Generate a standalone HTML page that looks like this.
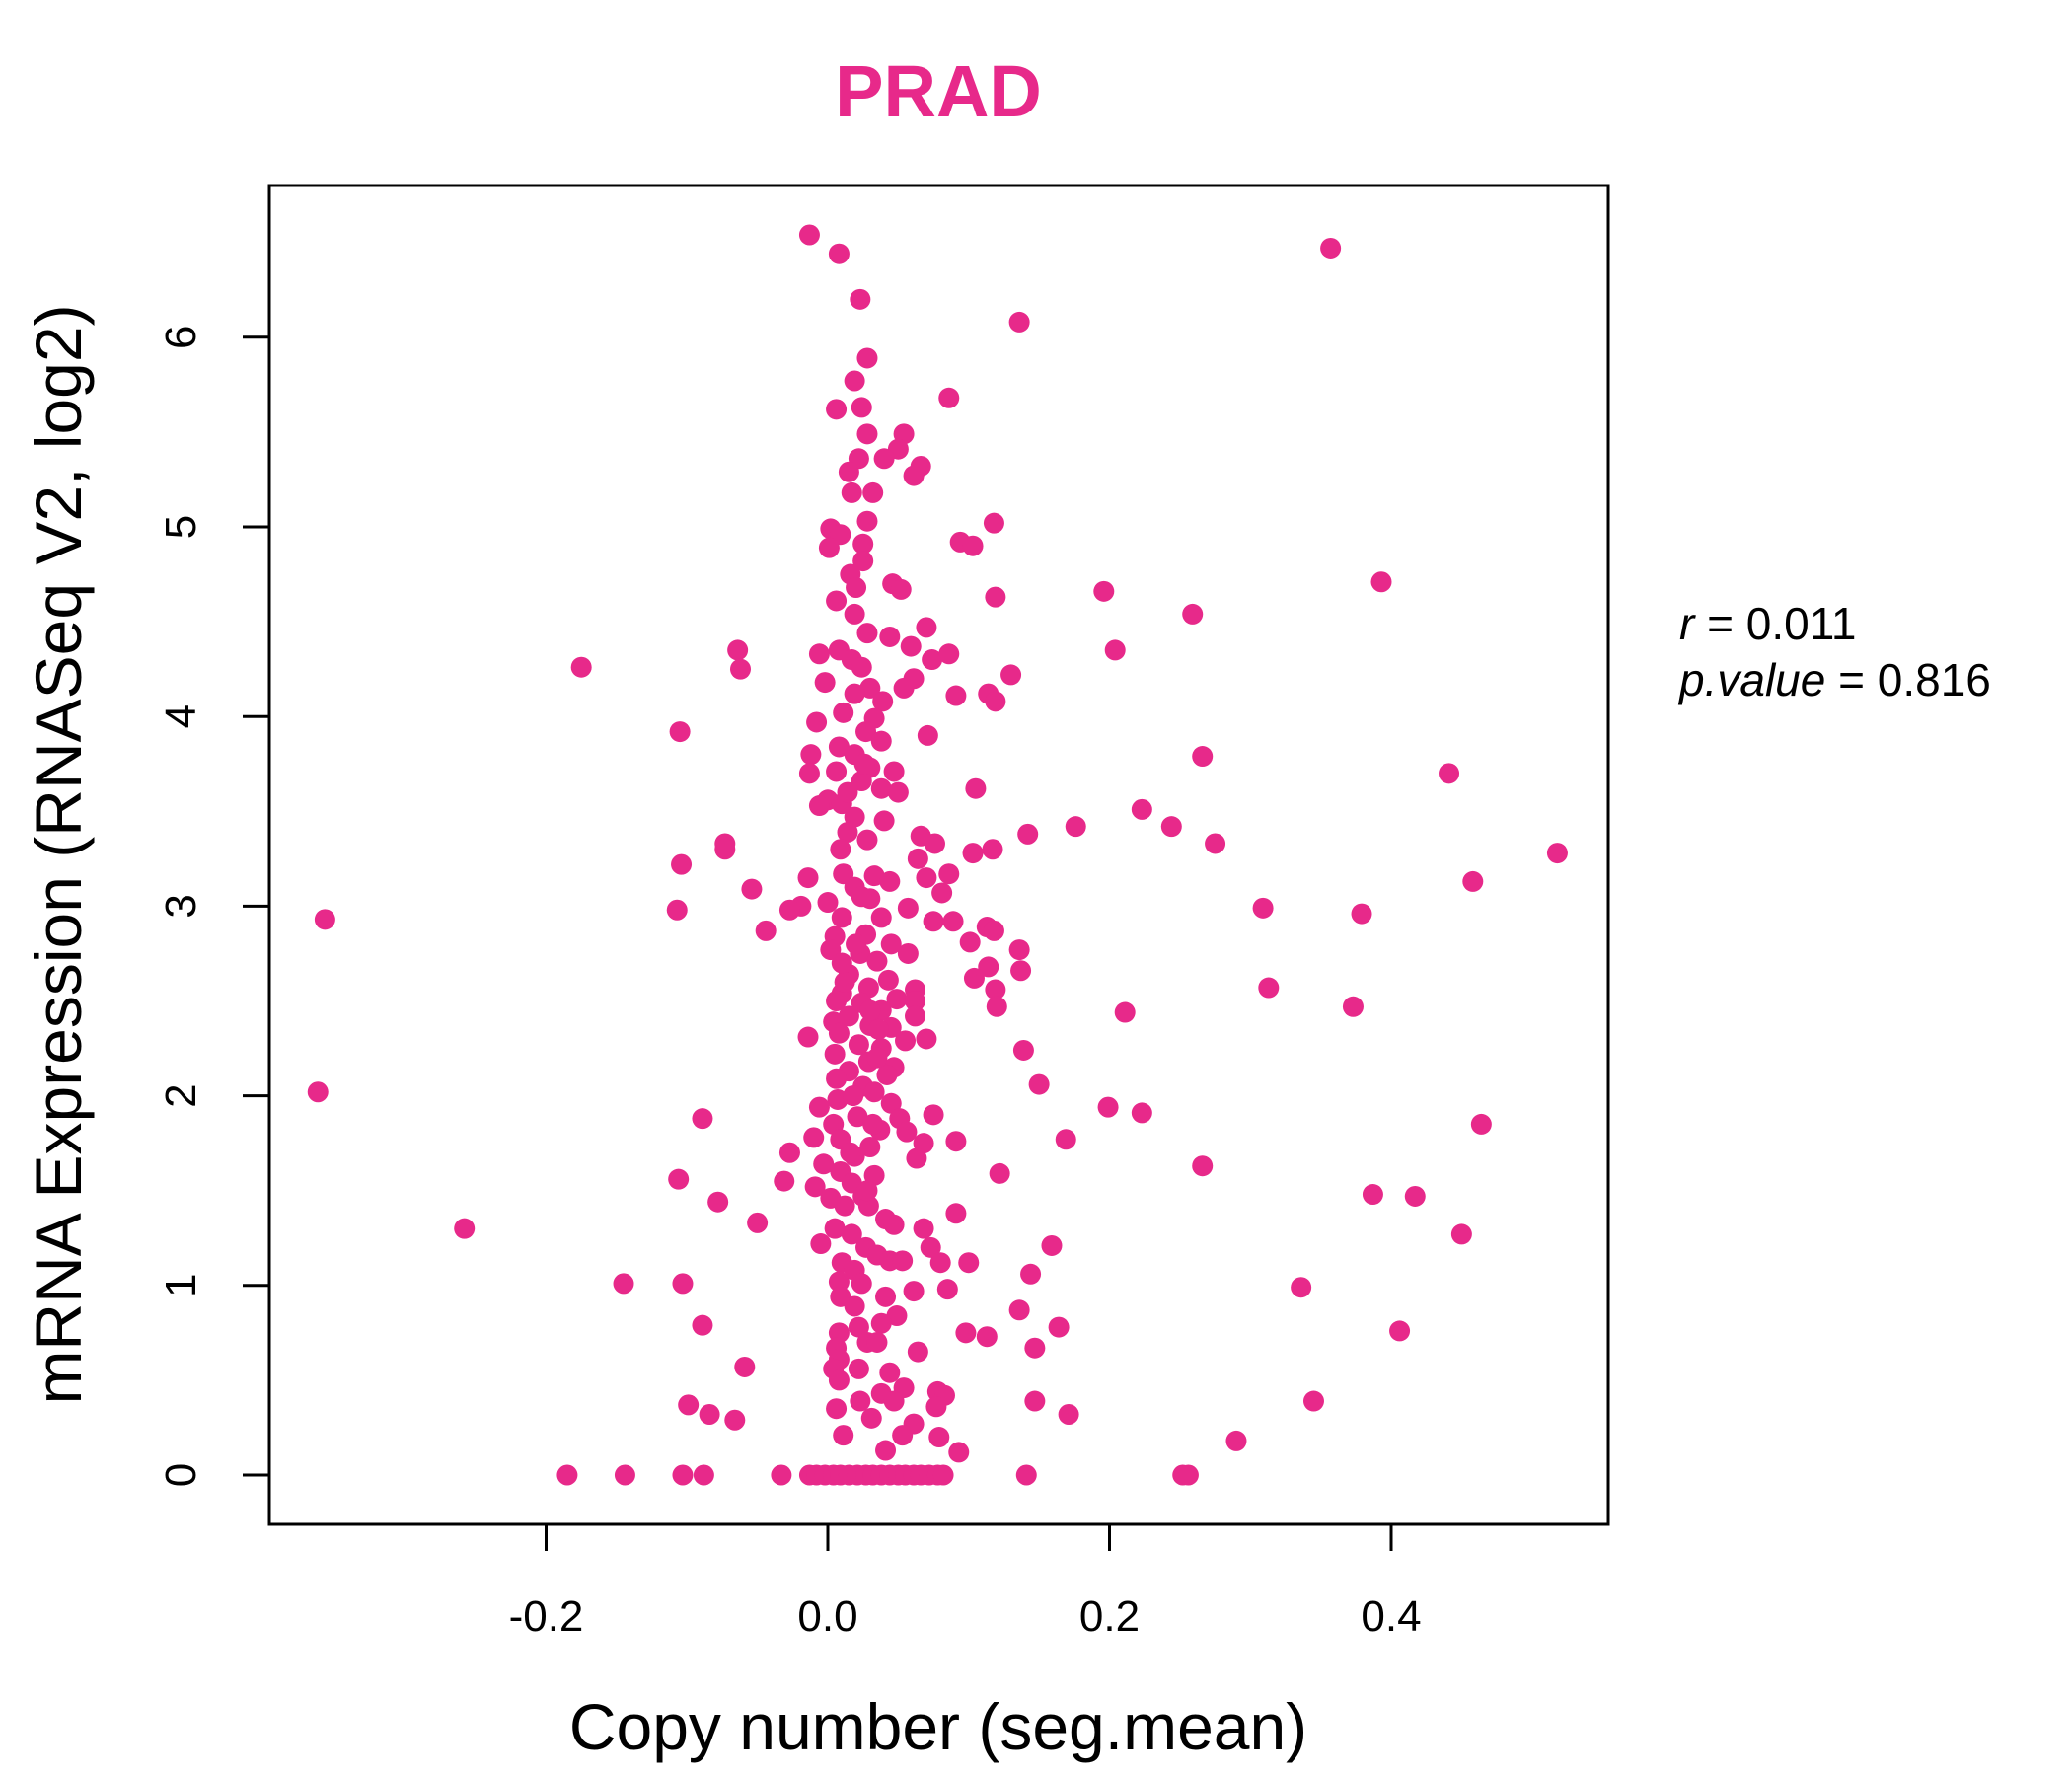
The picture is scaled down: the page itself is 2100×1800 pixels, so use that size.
<!DOCTYPE html>
<html><head><meta charset="utf-8"><style>
html,body{margin:0;padding:0;background:#fff;}
svg{display:block;font-family:"Liberation Sans",sans-serif;}
</style></head><body>
<svg id="chart" width="2100" height="1800" viewBox="0 0 2100 1800">
<rect x="0" y="0" width="2100" height="1800" fill="#fff"/>
<text x="951" y="118" text-anchor="middle" font-size="74" font-weight="bold" fill="#E7298A">PRAD</text>
<g id="points"></g>
<rect x="273" y="188" width="1357" height="1357" fill="none" stroke="#000" stroke-width="3"/>
<g id="xaxis"></g>
<g id="yaxis"></g>
<text x="951" y="1773" text-anchor="middle" font-size="66">Copy number (seg.mean)</text>
<text transform="translate(82,866) rotate(-90)" text-anchor="middle" font-size="66">mRNA Expression (RNASeq V2, log2)</text>
<text x="1702" y="648" font-size="46"><tspan font-style="italic">r</tspan> = 0.011</text>
<text x="1702" y="705" font-size="46"><tspan font-style="italic">p.value</tspan> = 0.816</text>
</svg>
<script>
const xTicks = [-0.2, 0.0, 0.2, 0.4];
const xTickLabels = ["-0.2", "0.0", "0.2", "0.4"];
const yTicks = [0, 1, 2, 3, 4, 5, 6];
const yTickLabels = ["0", "1", "2", "3", "4", "5", "6"];
const xs = [-0.013,0.008,0.023,0.357,0.136,0.028,0.019,0.086,0.006,0.024,0.028,0.054,0.050,0.040,0.022,0.066,0.061,0.015,0.017,0.032,0.028,0.118,0.002,0.009,0.094,0.103,0.025,0.001,0.025,0.016,0.020,0.006,0.046,0.052,0.119,0.196,0.393,0.259,0.019,0.028,0.070,0.044,0.059,0.204,-0.064,-0.175,-0.062,-0.006,0.008,0.017,0.074,0.086,0.024,0.061,0.130,-0.002,0.030,0.054,0.114,0.091,0.119,0.039,0.019,0.011,0.033,-0.008,-0.105,0.027,0.071,0.038,0.008,0.019,-0.012,0.266,0.030,0.047,0.441,-0.013,0.006,0.024,0.105,0.038,0.050,0.000,0.010,0.223,-0.006,0.019,0.244,0.176,0.014,0.142,0.066,0.028,0.076,-0.073,0.275,-0.073,0.009,0.117,0.103,0.518,0.064,-0.104,0.086,0.011,0.033,-0.014,0.070,0.044,0.458,0.019,-0.054,0.081,0.030,0.000,-0.019,0.309,-0.027,-0.107,0.057,-0.357,0.379,0.010,0.038,0.075,0.089,-0.044,0.113,0.118,0.027,0.005,0.045,0.101,0.023,0.057,0.136,0.002,0.035,0.114,0.137,0.015,0.104,0.043,0.029,0.313,0.062,0.119,0.010,0.049,0.006,0.062,0.024,0.373,0.120,0.038,0.211,0.015,0.062,0.004,0.030,0.045,0.008,-0.014,0.070,0.055,0.022,0.038,0.139,0.005,0.029,0.047,0.015,0.042,0.006,0.150,0.025,-0.362,0.033,0.007,0.045,0.199,-0.006,0.223,0.075,0.021,-0.089,0.051,0.004,0.464,0.037,0.056,-0.010,0.009,0.091,0.169,0.068,0.030,-0.027,0.019,0.063,-0.003,0.266,0.009,0.122,0.033,-0.106,-0.031,0.017,-0.009,0.387,0.417,0.025,0.002,-0.078,0.012,0.029,0.091,0.041,-0.050,0.047,0.068,-0.258,0.005,0.450,0.017,0.073,0.159,-0.005,0.027,0.035,0.044,0.053,0.080,0.100,0.010,0.019,0.144,0.008,-0.145,-0.103,0.024,0.336,0.061,0.085,0.009,0.041,0.019,0.136,0.049,0.038,-0.089,0.164,0.022,0.406,0.008,0.098,0.113,0.028,0.035,0.006,0.147,0.064,0.008,-0.059,0.022,0.004,0.044,0.008,0.054,0.078,0.038,0.083,0.047,0.147,0.345,0.023,-0.099,0.077,0.006,-0.084,0.171,0.031,-0.066,0.061,0.053,0.011,0.079,0.290,0.041,0.093,
-0.185,-0.144,-0.103,-0.088,-0.033,-0.013,-0.008,-0.002,0.004,0.009,0.015,0.021,0.027,0.032,0.038,0.044,0.050,0.055,0.061,0.066,0.072,0.078,0.082,0.141,0.252,0.256,
0.012,0.020,0.030,0.035,0.014,0.026,0.040,0.018,0.032,0.010,0.024,0.036,0.016,0.028];
const ys = [6.54,6.44,6.20,6.47,6.08,5.89,5.77,5.68,5.62,5.63,5.49,5.49,5.41,5.36,5.36,5.32,5.27,5.29,5.18,5.18,5.03,5.02,4.99,4.96,4.92,4.90,4.91,4.89,4.82,4.75,4.68,4.61,4.70,4.67,4.63,4.66,4.71,4.54,4.54,4.44,4.47,4.42,4.37,4.35,4.35,4.26,4.25,4.33,4.35,4.30,4.30,4.33,4.26,4.20,4.22,4.18,4.15,4.15,4.12,4.11,4.08,4.08,4.12,4.02,3.99,3.97,3.92,3.92,3.90,3.87,3.84,3.80,3.80,3.79,3.73,3.71,3.70,3.70,3.71,3.66,3.62,3.62,3.60,3.56,3.54,3.51,3.53,3.47,3.42,3.42,3.39,3.38,3.37,3.35,3.33,3.33,3.33,3.30,3.30,3.30,3.28,3.28,3.25,3.22,3.17,3.17,3.16,3.15,3.15,3.13,3.13,3.10,3.09,3.07,3.04,3.02,3.00,2.99,2.98,2.98,2.99,2.93,2.96,2.94,2.94,2.92,2.92,2.87,2.89,2.87,2.85,2.84,2.80,2.81,2.75,2.75,2.77,2.77,2.71,2.68,2.66,2.64,2.62,2.61,2.57,2.57,2.56,2.56,2.54,2.51,2.50,2.50,2.49,2.47,2.47,2.45,2.44,2.42,2.42,2.39,2.37,2.36,2.33,2.31,2.30,2.29,2.27,2.25,2.24,2.22,2.18,2.15,2.13,2.11,2.09,2.06,2.05,2.02,2.02,1.98,1.96,1.94,1.94,1.91,1.90,1.89,1.88,1.88,1.85,1.85,1.82,1.81,1.78,1.77,1.76,1.77,1.75,1.73,1.70,1.68,1.67,1.64,1.63,1.60,1.59,1.58,1.56,1.55,1.54,1.52,1.48,1.47,1.47,1.46,1.44,1.42,1.42,1.38,1.35,1.33,1.32,1.30,1.30,1.30,1.27,1.27,1.20,1.21,1.22,1.20,1.16,1.13,1.13,1.12,1.12,1.12,1.08,1.06,1.02,1.01,1.01,1.01,0.99,0.97,0.98,0.94,0.94,0.89,0.87,0.84,0.80,0.79,0.78,0.78,0.76,0.75,0.75,0.73,0.70,0.70,0.67,0.67,0.65,0.61,0.57,0.56,0.56,0.54,0.50,0.46,0.44,0.43,0.42,0.39,0.39,0.39,0.39,0.37,0.36,0.35,0.32,0.32,0.30,0.29,0.27,0.21,0.21,0.20,0.18,0.13,0.12,
0,0,0,0,0,0,0,0,0,0,0,0,0,0,0,0,0,0,0,0,0,0,0,0,0,0,
2.60,2.80,2.45,2.20,3.60,3.75,3.45,2.00,1.85,2.70,3.05,2.35,1.70,1.50];

const X0 = 273, X1 = 1630, Y0 = 188, Y1 = 1545;
function sx(v){ return 839 + v * 1427.5; }
function sy(v){ return 1495 - v * 192.2; }
const NS = "http://www.w3.org/2000/svg";
const gp = document.getElementById('points');
for (let i = 0; i < xs.length; i++) {
  const c = document.createElementNS(NS, 'circle');
  c.setAttribute('cx', sx(xs[i]));
  c.setAttribute('cy', sy(ys[i]));
  c.setAttribute('r', 10.5);
  c.setAttribute('fill', '#E7298A');
  
  
  gp.appendChild(c);
}
const gx = document.getElementById('xaxis');
xTicks.forEach((t, i) => {
  const l = document.createElementNS(NS, 'line');
  l.setAttribute('x1', sx(t)); l.setAttribute('x2', sx(t));
  l.setAttribute('y1', Y1); l.setAttribute('y2', Y1 + 27);
  l.setAttribute('stroke', '#000'); l.setAttribute('stroke-width', 3);
  
  
  gx.appendChild(l);
  const tx = document.createElementNS(NS, 'text');
  tx.setAttribute('x', sx(t)); tx.setAttribute('y', 1653);
  tx.setAttribute('text-anchor', 'middle'); tx.setAttribute('font-size', 44);
  tx.textContent = xTickLabels[i];
  
  
  gx.appendChild(tx);
});
const gy = document.getElementById('yaxis');
yTicks.forEach((t, i) => {
  const l = document.createElementNS(NS, 'line');
  l.setAttribute('x1', X0); l.setAttribute('x2', X0 - 27);
  l.setAttribute('y1', sy(t)); l.setAttribute('y2', sy(t));
  l.setAttribute('stroke', '#000'); l.setAttribute('stroke-width', 3);
  
  
  gy.appendChild(l);
  const tx = document.createElementNS(NS, 'text');
  tx.setAttribute('transform', 'translate(198,' + sy(t) + ') rotate(-90)');
  tx.setAttribute('text-anchor', 'middle'); tx.setAttribute('font-size', 44);
  tx.textContent = yTickLabels[i];
  
  
  gy.appendChild(tx);
});
</script>
</body></html>
